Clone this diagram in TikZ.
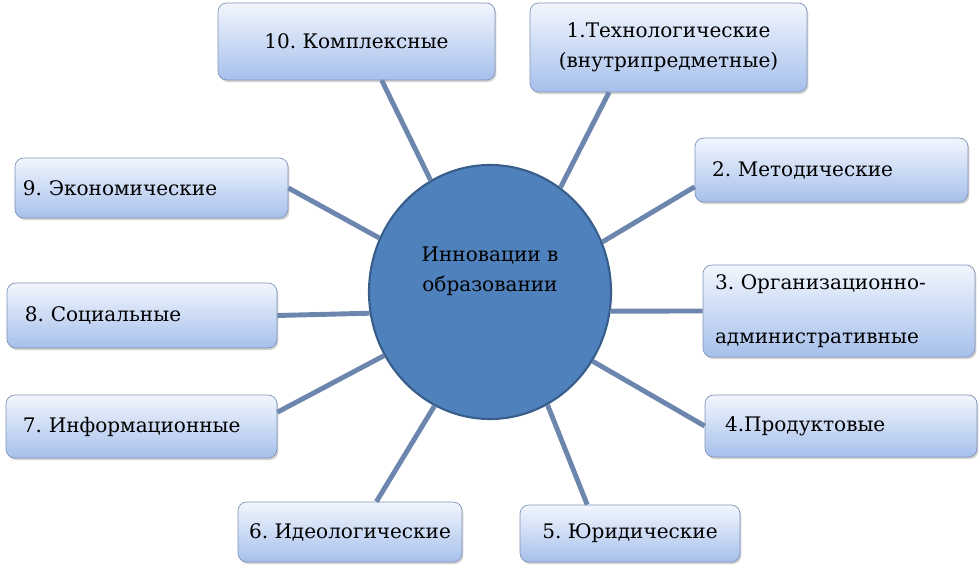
\documentclass[tikz,border=0pt]{standalone}
\usepackage{fontspec}
\setmainfont{DejaVu Serif}
\usepackage{tikz}
\usetikzlibrary{shapes.geometric,shadows}
\definecolor{boxtop}{RGB}{242,246,253}
\definecolor{boxbottom}{RGB}{166,192,236}
\definecolor{boxline}{RGB}{128,148,186}
\definecolor{hubfill}{RGB}{79,129,189}
\definecolor{hubline}{RGB}{56,93,138}
\definecolor{spokecol}{RGB}{108,134,174}
\tikzstyle{idea} = [draw=boxline, rounded corners=5pt,
    top color=boxtop, bottom color=boxbottom,
    drop shadow={shadow xshift=0.8pt, shadow yshift=-1.2pt, opacity=0.35},
    font=\fontsize{11.4}{17}\selectfont, inner sep=0pt]
\tikzstyle{lefttext} = [align=left]
\tikzstyle{hub} = [draw=hubline, line width=1.2pt, fill=hubfill, ellipse,
    minimum width=4.84cm, minimum height=5.08cm]
\tikzstyle{spoke} = [draw=spokecol, line width=2.8pt]
\frenchspacing

\begin{document}
\begin{tikzpicture}[auto]
	\useasboundingbox (0,0) rectangle (19.6,11.34);

	% Centre
	\node [hub, label={[yshift=0.42cm, align=center,
			font=\fontsize{11.4}{17}\selectfont]center:Инновации в\\образовании}]
		(hub) at (9.80,5.50) {};

	% Top row
	\node [idea, minimum width=5.54cm, minimum height=1.54cm]
		(n10) at (7.13,10.51) {10. Комплексные};
	\node [idea, minimum width=5.54cm, minimum height=1.78cm, align=center]
		(n1) at (13.37,10.39) {1.Технологические\\(внутрипредметные)};

	% Right column
	\node [idea, lefttext, text width=4.78cm, minimum width=5.46cm, minimum height=1.28cm]
		(n2) at (16.63,7.94) {2. Методические};
	\node [idea, lefttext, text width=4.96cm, minimum width=5.44cm, minimum height=1.84cm]
		(n3) at (16.78,5.12) {3. Организационно-\\[14pt] административные};
	\node [idea, lefttext, text width=4.64cm, minimum width=5.44cm, minimum height=1.24cm]
		(n4) at (16.82,2.82) {4.Продуктовые};

	% Bottom row
	\node [idea, minimum width=4.40cm, minimum height=1.14cm]
		(n5) at (12.60,0.67) {5. Юридические};
	\node [idea, minimum width=4.48cm, minimum height=1.20cm]
		(n6) at (7.00,0.70) {6. Идеологические};

	% Left column
	\node [idea, lefttext, text width=4.74cm, minimum width=5.42cm, minimum height=1.26cm]
		(n7) at (2.83,2.81) {7. Информационные};
	\node [idea, lefttext, text width=4.68cm, minimum width=5.40cm, minimum height=1.30cm]
		(n8) at (2.84,5.03) {8. Социальные};
	\node [idea, lefttext, text width=5.14cm, minimum width=5.46cm, minimum height=1.20cm]
		(n9) at (3.03,7.58) {9. Экономические};

	% Spokes
	\draw [spoke] (hub.56) -- (n1.217);
	\draw [spoke] (hub.24) -- (n2.187);
	\draw [spoke] (hub.351) -- (n3.180);
	\draw [spoke] (hub.326) -- (n4.180);
	\draw [spoke] (hub.297) -- (n5.146);
	\draw [spoke] (hub.244) -- (n6.49);
	\draw [spoke] (hub.211) -- (n7.6);
	\draw [spoke] (hub.190) -- (n8.0);
	\draw [spoke] (hub.154) -- (n9.0);
	\draw [spoke] (hub.118) -- (n10.303);
\end{tikzpicture}
\end{document}
